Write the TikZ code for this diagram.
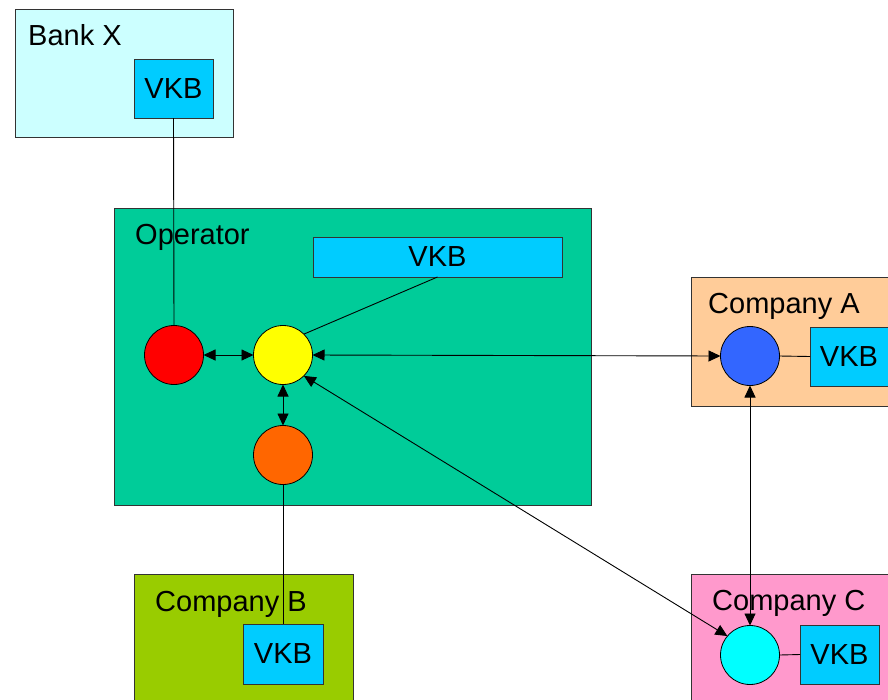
\documentclass[tikz,border=0pt]{standalone}
\usepackage{fontspec}
\setmainfont{Liberation Sans}
\usetikzlibrary{arrows.meta}
\definecolor{bankc}{HTML}{CCFFFF}
\definecolor{vkbc}{HTML}{00CCFF}
\definecolor{opc}{HTML}{00CC99}
\definecolor{redc}{HTML}{FF0000}
\definecolor{yelc}{HTML}{FFFF00}
\definecolor{orac}{HTML}{FF6600}
\definecolor{bluec}{HTML}{3366FF}
\definecolor{cyanc}{HTML}{00FFFF}
\definecolor{compac}{HTML}{FFCC99}
\definecolor{compbc}{HTML}{99CC00}
\definecolor{compcc}{HTML}{FF99CC}
\definecolor{edgec}{HTML}{333333}
\tikzset{
  box/.style={draw=edgec, line width=1pt, rectangle, inner sep=0pt, outer sep=0pt, anchor=north west},
  vkbbox/.style={box, fill=vkbc, font=\fontsize{29}{31}\selectfont},
  dot/.style={draw=black, line width=0.8pt, circle, minimum size=59pt, inner sep=0pt, outer sep=0pt},
  lbl/.style={anchor=base west, inner sep=0pt, font=\fontsize{29}{31}\selectfont},
  conn/.style={draw=black, line width=0.9pt},
  dbl/.style={conn, {Triangle[length=12pt,width=11pt]}-{Triangle[length=12pt,width=11pt]}}
}
\begin{document}
\begin{tikzpicture}[x=1pt,y=-1pt]
\useasboundingbox (0,0) rectangle (888,699);
\clip (0,0) rectangle (888,699);
% containers
\node[box, fill=bankc, minimum width=218pt, minimum height=128pt] (bank) at (15,9) {};
\node[box, fill=opc, minimum width=477pt, minimum height=297pt] (op) at (114,208) {};
\node[box, fill=compac, minimum width=210pt, minimum height=129pt] (ca) at (691,277) {};
\node[box, fill=compbc, minimum width=219pt, minimum height=140pt] (cb) at (134,574) {};
\node[box, fill=compcc, minimum width=210pt, minimum height=140pt] (cc) at (691,574) {};
% labels
\node[lbl] (lbank) at (28,45) {Bank X};
\node[lbl] (lop) at (135,244) {Operator};
\node[lbl] (lca) at (708,313) {Company A};
\node[lbl] (lcb) at (155,611) {Company B};
\node[lbl] (lcc) at (712,610) {Company C};
% VKB boxes
\node[vkbbox, minimum width=79pt, minimum height=59pt] (vbank) at (134,59) {VKB};
\node[vkbbox, minimum width=249pt, minimum height=40pt] (vop) at (313,237) {VKB};
\node[vkbbox, minimum width=79pt, minimum height=59pt] (va) at (810,327) {VKB\hspace*{1pt}};
\node[vkbbox, minimum width=80pt, minimum height=60pt] (vb) at (243,624) {VKB};
\node[vkbbox, minimum width=79pt, minimum height=59pt] (vc) at (800,625) {VKB};
% circles
\node[dot, fill=redc] (red) at (174,355) {};
\node[dot, fill=yelc] (yel) at (283,355) {};
\node[dot, fill=orac] (ora) at (283,455) {};
\node[dot, fill=bluec] (blue) at (750,356) {};
\node[dot, fill=cyanc] (cyan) at (750,655) {};
% plain connectors
\draw[conn] (vbank.south) -- (red.north);
\draw[conn] (vop.south) -- (yel.45);
\draw[conn] (ora.south) -- (vb.north);
\draw[conn] (blue.east) -- (va.west);
\draw[conn] (cyan.east) -- (vc.west);
% arrows
\draw[dbl] (red.east) -- (yel.west);
\draw[dbl] (yel.south) -- (ora.north);
\draw[dbl] (yel.east) -- (blue.west);
\draw[dbl] (yel.-45) -- (cyan.140);
\draw[dbl] (blue.south) -- (cyan.north);
\end{tikzpicture}
\end{document}
